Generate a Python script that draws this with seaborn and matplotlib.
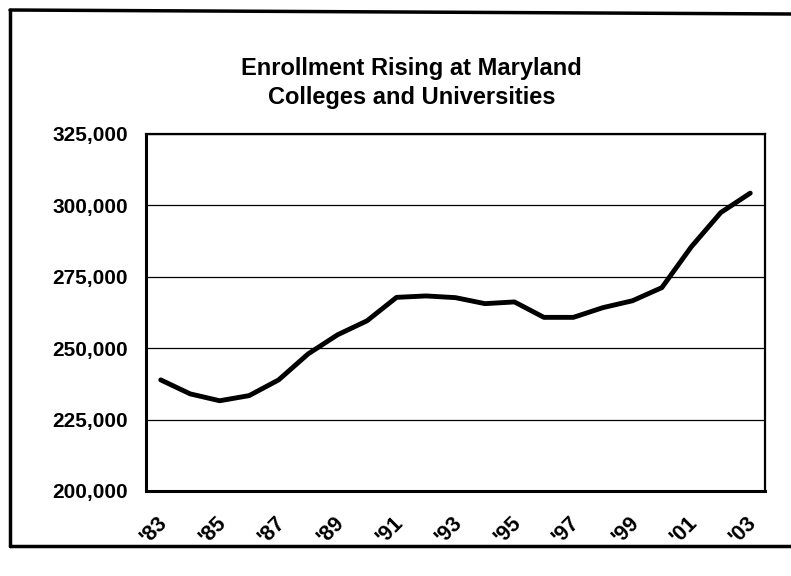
import numpy as np
import pandas as pd
import seaborn as sns
from matplotlib import pyplot as plt
from matplotlib.lines import Line2D
from matplotlib.transforms import ScaledTranslation

years = ["'83", "'84", "'85", "'86", "'87", "'88", "'89", "'90", "'91", "'92", "'93",
         "'94", "'95", "'96", "'97", "'98", "'99", "'00", "'01", "'02", "'03"]
enrollment = [238900, 234000, 231600, 233400, 238900, 248000, 254700, 259600, 267800, 268300,
              267700, 265600, 266200, 260800, 260800, 264200, 266600, 271200, 285500, 297500, 304300]

sns.set_style("white")
plt.rcParams['font.family'] = ['Liberation Sans', 'DejaVu Sans']
plt.rcParams['font.weight'] = 'bold'
plt.rcParams['text.color'] = 'black'
plt.rcParams['xtick.color'] = 'black'
plt.rcParams['ytick.color'] = 'black'

df = pd.DataFrame({'pos': np.arange(len(years)), 'enrollment': enrollment})

fig = plt.figure(figsize=(7.91, 5.76), dpi=100)
ax = fig.add_axes([146 / 791, 1 - 491 / 576, (765 - 146) / 791, (491 - 134) / 576])

sns.lineplot(data=df, x='pos', y='enrollment', ax=ax, color='black', linewidth=3.5)

ax.set_xlim(-0.5, len(years) - 0.5)
ax.set_ylim(200000, 325000)
ax.set_yticks(np.arange(200000, 325001, 25000))
ax.set_yticklabels([f'{v:,}' for v in range(200000, 325001, 25000)], fontsize=15, fontweight='bold')
ax.yaxis.grid(True, color='black', linewidth=0.9)
ax.tick_params(axis='y', direction='inout', length=10, width=1.5, pad=8)

# tick marks at category boundaries, labels every other year at category centres
ax.set_xticks(np.arange(-0.5, len(years), 1.0))
ax.set_xticklabels([])
ax.tick_params(axis='x', which='major', direction='out', length=7, width=1.5)
ax.set_xticks(np.arange(0, len(years), 2), minor=True)
ax.set_xticklabels(years[::2], minor=True, rotation=45, ha='right', rotation_mode='anchor',
                   fontsize=15.5, fontweight='bold')
ax.tick_params(axis='x', which='minor', length=0, pad=15)
shift = ScaledTranslation(-4 / 100, 0, fig.dpi_scale_trans)
for lbl in ax.get_xticklabels(minor=True):
    lbl.set_transform(lbl.get_transform() + shift)

ax.set_xlabel('')
ax.set_ylabel('')
for side in ['left', 'bottom']:
    ax.spines[side].set_linewidth(2.2)
for side in ['top', 'right']:
    ax.spines[side].set_linewidth(1.6)
for s in ax.spines.values():
    s.set_color('black')

fig.text(0.52, 1 - 83 / 576, 'Enrollment Rising at Maryland\nColleges and Universities',
         ha='center', va='center', fontsize=17, fontweight='bold', linespacing=1.38)

# outer frame around the chart (right edge is cut off in the source)
fig.add_artist(Line2D([10 / 791, 10 / 791], [1 - 10 / 576, 1 - 546 / 576], color='black', lw=2.5))
fig.add_artist(Line2D([10 / 791, 1.0], [1 - 10 / 576, 1 - 14 / 576], color='black', lw=2.5))
fig.add_artist(Line2D([10 / 791, 1.0], [1 - 546 / 576, 1 - 546 / 576], color='black', lw=2.5))

fig.savefig('out.png', dpi=100)
